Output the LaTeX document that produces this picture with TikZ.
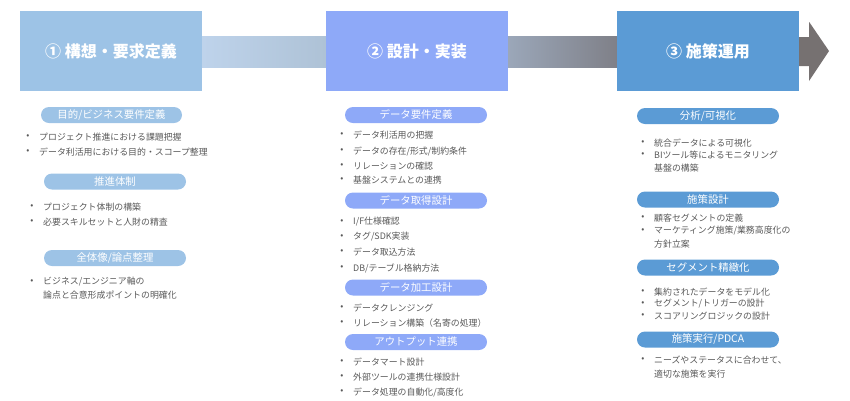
\documentclass[tikz,border=0pt]{standalone}
\usepackage{fontspec}
\setmainfont{Noto Sans CJK JP}
\usetikzlibrary{shapes.misc,backgrounds}
\definecolor{boxA}{HTML}{9DC3E6}
\definecolor{boxB}{HTML}{8EA9F8}
\definecolor{boxC}{HTML}{5B9BD5}
\definecolor{txt}{HTML}{595959}
\definecolor{bandAl}{HTML}{BED3EB}
\definecolor{bandAr}{HTML}{AEC2D6}
\definecolor{bandBl}{HTML}{9BA7B9}
\definecolor{bandBr}{HTML}{7F8088}
\definecolor{headc}{HTML}{767171}
\tikzset{
  stagebox/.style={rectangle, minimum width=182pt, minimum height=80pt, inner sep=0pt,
    text=white, font=\fontsize{16}{19}\selectfont\bfseries},
  pill/.style={rounded rectangle, minimum width=142pt, minimum height=16pt, inner sep=0pt,
    text=white, font=\fontsize{10.4}{12}\selectfont},
  item/.style={anchor=west, inner sep=0pt, text=txt, font=\fontsize{8.9}{10}\selectfont},
  bul/.style={inner sep=0pt, text=txt, font=\fontsize{9}{10}\selectfont}
}
\begin{document}
\begin{tikzpicture}[x=1pt,y=-1pt]
\useasboundingbox (0,0) rectangle (850,400);
% stages
\node[stagebox, fill=boxA] (s1) at (111,51) {① 構想・要求定義};
\node[stagebox, fill=boxB] (s2) at (417,51) {② 設計・実装};
\node[stagebox, fill=boxC] (s3) at (708,51) {③ 施策運用};
\coordinate (tip) at (829,51);
% bands
\begin{scope}[on background layer]
\fill[left color=bandAl, right color=bandAr] ([yshift=15pt]s1.east) rectangle ([yshift=-16pt]s2.west);
\fill[left color=bandBl, right color=bandBr] ([yshift=15pt]s2.east) rectangle ([yshift=-16pt]s3.west);
\fill[headc] ([yshift=14pt]s3.east) -- ++(10,0) -- ++(0,-15) -- (tip) -- ++(-20,30) -- ++(0,-15) -- ([yshift=-15pt]s3.east) -- cycle;
\end{scope}

% column 1
\node[pill, fill=boxA, minimum width=141pt] (p11) at (111.5,115) {目的/ビジネス要件定義};
\node[bul] (b111) at (28,137) {•};
\node[item] (t111) at (39,137) {プロジェクト推進における課題把握};
\node[bul] (b112) at (28,152) {•};
\node[item] (t112) at (39,152) {データ利活用における目的・スコープ整理};

\node[pill, fill=boxA] (p12) at (115,181.5) {推進体制};
\node[bul] (b121) at (32,207) {•};
\node[item] (t121) at (43,207) {プロジェクト体制の構築};
\node[bul] (b122) at (32,222) {•};
\node[item] (t122) at (43,222) {必要スキルセットと人財の精査};

\node[pill, fill=boxA] (p13) at (115,258) {全体像/論点整理};
\node[bul] (b131) at (32,282) {•};
\node[item] (t131) at (43,282) {ビジネス/エンジニア軸の};
\node[item] (t131b) at (43,295) {論点と合意形成ポイントの明確化};

% column 2
\node[pill, fill=boxB] (p21) at (416,115) {データ要件定義};
\node[bul] (b211) at (342,135) {•};
\node[item] (t211) at (353,135) {データ利活用の把握};
\node[bul] (b212) at (342,151) {•};
\node[item] (t212) at (353,151) {データの存在/形式/制約条件};
\node[bul] (b213) at (342,166) {•};
\node[item] (t213) at (353,166) {リレーションの確認};
\node[bul] (b214) at (342,180) {•};
\node[item] (t214) at (353,180) {基盤システムとの連携};

\node[pill, fill=boxB] (p22) at (416,200.5) {データ取得設計};
\node[bul] (b221) at (342,222) {•};
\node[item] (t221) at (353,222) {I/F仕様確認};
\node[bul] (b222) at (342,237) {•};
\node[item] (t222) at (353,237) {タグ/SDK実装};
\node[bul] (b223) at (342,252) {•};
\node[item] (t223) at (353,252) {データ取込方法};
\node[bul] (b224) at (342,268) {•};
\node[item] (t224) at (353,268) {DB/テーブル格納方法};

\node[pill, fill=boxB] (p23) at (416,287.5) {データ加工設計};
\node[bul] (b231) at (342,308) {•};
\node[item] (t231) at (353,308) {データクレンジング};
\node[bul] (b232) at (342,323) {•};
\node[item] (t232) at (353,323) {リレーション構築（名寄の処理）};

\node[pill, fill=boxB] (p24) at (416,342) {アウトプット連携};
\node[bul] (b241) at (342,362) {•};
\node[item] (t241) at (353,362) {データマート設計};
\node[bul] (b242) at (342,377) {•};
\node[item] (t242) at (353,377) {外部ツールの連携仕様設計};
\node[bul] (b243) at (342,392) {•};
\node[item] (t243) at (353,392) {データ処理の自動化/高度化};

% column 3
\node[pill, fill=boxC] (p31) at (708,116) {分析/可視化};
\node[bul] (b311) at (643,143) {•};
\node[item] (t311) at (654,143) {統合データによる可視化};
\node[bul] (b312) at (643,155) {•};
\node[item] (t312) at (654,155) {BIツール等によるモニタリング};
\node[item] (t312b) at (654,168) {基盤の構築};

\node[pill, fill=boxC] (p32) at (708,199.5) {施策設計};
\node[bul] (b321) at (643,218) {•};
\node[item] (t321) at (654,218) {顧客セグメントの定義};
\node[bul] (b322) at (643,231) {•};
\node[item] (t322) at (654,231) {マーケティング施策/業務高度化の};
\node[item] (t322b) at (654,244) {方針立案};

\node[pill, fill=boxC] (p33) at (708,267.5) {セグメント精緻化};
\node[bul] (b331) at (643,292) {•};
\node[item] (t331) at (654,292) {集約されたデータをモデル化};
\node[bul] (b332) at (643,304) {•};
\node[item] (t332) at (654,304) {セグメント/トリガーの設計};
\node[bul] (b333) at (643,316) {•};
\node[item] (t333) at (654,316) {スコアリングロジックの設計};

\node[pill, fill=boxC] (p34) at (708,339.5) {施策実行/PDCA};
\node[bul] (b341) at (643,360) {•};
\node[item] (t341) at (654,360) {ニーズやステータスに合わせて、};
\node[item] (t341b) at (654,374) {適切な施策を実行};
\end{tikzpicture}
\end{document}
